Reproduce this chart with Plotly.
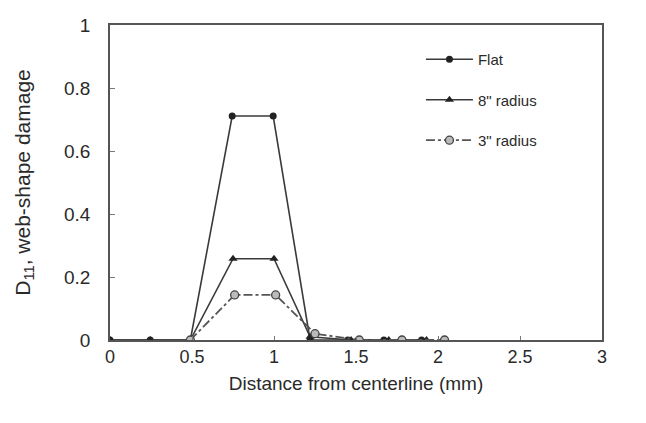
import plotly.graph_objects as go

flat_x = [0, 0.245, 0.49, 0.745, 0.995, 1.22, 1.45, 1.67, 1.9]
flat_y = [0, 0, 0, 0.711, 0.711, 0, 0, 0, 0]
r8_x = [0, 0.245, 0.49, 0.75, 1.0, 1.22, 1.47, 1.7, 1.93]
r8_y = [0, 0, 0, 0.258, 0.258, 0.01, 0, 0, 0]
r3_x = [0.49, 0.76, 1.01, 1.25, 1.52, 1.78, 2.04]
r3_y = [0, 0.143, 0.143, 0.02, 0, 0, 0]

x_ticks = [0, 0.5, 1, 1.5, 2, 2.5, 3]
x_labels = ["0", "0.5", "1", "1.5", "2", "2.5", "3"]
y_ticks = [0, 0.2, 0.4, 0.6, 0.8, 1]
y_labels = ["0", "0.2", "0.4", "0.6", "0.8", "1"]

col = "#3a3a3a"
txt = "#2a2a2a"
fig = go.Figure()
fig.add_trace(go.Scatter(x=flat_x, y=flat_y, name="Flat", mode="lines+markers",
                         legendgroup="a",
                         line=dict(color=col, width=1.6),
                         marker=dict(symbol="circle", size=7, color="#222222")))
fig.add_trace(go.Scatter(x=r8_x, y=r8_y, name="8\" radius", mode="lines+markers",
                         legendgroup="b",
                         line=dict(color=col, width=1.6),
                         marker=dict(symbol="triangle-up", size=8, color="#222222")))
fig.add_trace(go.Scatter(x=r3_x, y=r3_y, name="3\" radius", mode="lines+markers",
                         legendgroup="c",
                         line=dict(color="#555555", width=1.8, dash="dashdot"),
                         marker=dict(symbol="circle", size=8, color="#bbbbbb",
                                     line=dict(color="#444444", width=1.3))))

fig.update_layout(
    width=638, height=415,
    margin=dict(l=102, r=44, t=17, b=83, autoexpand=False),
    paper_bgcolor="white", plot_bgcolor="white",
    font=dict(family="Liberation Sans, Arial, sans-serif", color=txt),
    legend=dict(x=0.632, y=0.943, xanchor="left", yanchor="top",
                bgcolor="rgba(0,0,0,0)", font=dict(size=15, color=txt),
                itemwidth=47, tracegroupgap=18, traceorder="grouped"),
    xaxis=dict(range=[0, 3], tickvals=x_ticks, ticktext=x_labels,
               showgrid=False, zeroline=False, showline=True, linecolor="#555555",
               linewidth=1.5, mirror=True, ticks="inside", ticklen=4,
               tickcolor="#777777", tickfont=dict(size=18, color=txt),
               automargin=False,
               title=dict(text="Distance from centerline (mm)", font=dict(size=19, color=txt),
                          standoff=10)),
    yaxis=dict(range=[0, 1], tickvals=y_ticks, ticktext=y_labels,
               showgrid=False, zeroline=False, showline=True, linecolor="#555555",
               linewidth=1.5, mirror=True, ticks="inside", ticklen=5,
               tickcolor="#777777", tickfont=dict(size=19, color=txt),
               ticklabelstandoff=14, automargin=False,
               title=dict(text="D<sub>11</sub>, web-shape damage", font=dict(size=21, color=txt),
                          standoff=28)),
)

fig.write_html("out.html")
